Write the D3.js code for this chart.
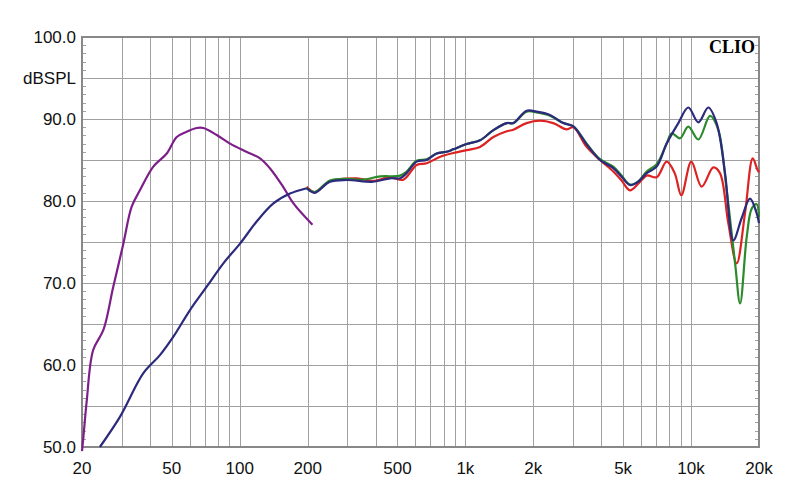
<!DOCTYPE html>
<html><head><meta charset="utf-8">
<script src="https://cdn.jsdelivr.net/npm/d3@7"></script>
<style>body{margin:0;background:#fff}svg{display:block}</style>
</head><body>
<script>
const xTickValues = [20,50,100,200,500,1000,2000,5000,10000,20000];
const xTickLabels = ["20","50","100","200","500","1k","2k","5k","10k","20k"];
const yTickValues = [50,60,70,80,90,100];
const yTickLabels = ["50.0","60.0","70.0","80.0","90.0","100.0"];
const yUnit = "dBSPL";

const purpleF = [20,20.3,21,22.4,24.9,27.5,30.5,33.2,36.1,41.4,47.5,52.6,58.2,64.4,69,79.1,90.6,107,123,136,156,173,210];
const purpleDB = [49.5,51.3,55.7,61.8,64.3,69.5,74.8,79.3,81.3,84.2,85.8,87.8,88.45,88.9,88.9,88.05,87.0,86.0,85.2,84.0,81.7,79.7,77.1];

const lowF = [24,29.5,37.4,44.3,50.8,60.2,71.4,84.6,100.3,118.9,141,167,198];
const lowDB = [50.0,53.7,59.0,61.2,63.45,66.7,69.55,72.4,74.8,77.5,79.7,80.9,81.55];

const blueF = [198,215,251,298,391,464,513,549,608,674,746,826,884,1014,1161,1331,1525,1631,1867,2069,2370,2717,3009,3446,3949,4520,4922,5357,5832,6356,7040,7797,8781,9725,10770,11920,12980,14140,15390,16750,18240,19540,20000];
const blueDB = [81.55,81.0,82.35,82.56,82.35,82.77,82.77,83.4,84.8,85.0,85.8,86.0,86.3,86.95,87.4,88.65,89.5,89.5,91.0,90.9,90.5,89.5,89.1,86.9,85.0,84.0,82.96,81.95,82.35,83.4,84.2,87.0,89.5,91.4,89.6,91.4,89.5,83.4,75.2,77.9,80.3,78.5,77.3];

const greenF = [198,215,251,298,350,420,513,549,608,674,746,826,884,1014,1161,1331,1525,1631,1867,2069,2370,2717,3009,3446,3949,4520,4922,5357,5832,6356,7040,7797,8205,8932,9725,10770,12140,13210,14380,15670,16490,17650,18590,19540,20000];
const greenDB = [81.6,81.1,82.5,82.7,82.6,83.0,83.1,83.6,84.9,85.1,85.8,86.0,86.3,86.95,87.4,88.65,89.5,89.5,90.9,90.8,90.4,89.5,89.1,87.0,85.1,84.2,83.1,82.0,82.4,83.6,84.5,87.0,88.25,87.65,89.06,87.5,90.37,88.65,81.3,72.4,67.5,75.65,79.1,79.6,78.0];

const redF = [198,215,251,330,391,464,531,608,674,773,884,1014,1161,1331,1525,1631,1867,2139,2451,2812,3009,3446,3949,4520,4922,5357,5832,6356,7040,7797,8460,9053,10025,11140,12550,13430,14620,15930,17340,18760,19690,20000];
const redDB = [81.75,81.1,82.4,82.77,82.45,82.9,82.6,84.4,84.6,85.4,85.85,86.2,86.6,87.8,88.5,88.7,89.5,89.8,89.5,88.74,89.0,86.6,85.0,83.6,82.5,81.3,82.1,83.1,82.9,84.8,83.4,80.7,84.8,81.75,84.1,83.4,77.3,72.4,78.5,85.2,83.8,83.5];

const W = 800, H = 504;
const m = {l:82, r:759, t:37, b:447};
const svg = d3.select("body").append("svg").attr("width", W).attr("height", H);
const x = d3.scaleLog().domain([20,20000]).range([m.l, m.r]);
const y = d3.scaleLinear().domain([50,100]).range([m.b, m.t]);

const grid = svg.append("g");
const vset = [];
for (let dec=10; dec<=10000; dec*=10) for (let k=1;k<=9;k++){ const v=dec*k; if (v>20 && v<20000) vset.push(v); }
grid.selectAll("line.v").data(vset).enter().append("line")
  .attr("x1", d=>Math.round(x(d))+0.5).attr("x2", d=>Math.round(x(d))+0.5)
  .attr("y1", m.t).attr("y2", m.b).attr("stroke", "#a0a0a0").attr("stroke-width", 1);
const hset = d3.range(55,100,5);
grid.selectAll("line.h").data(hset).enter().append("line")
  .attr("x1", m.l).attr("x2", m.r)
  .attr("y1", d=>Math.round(y(d))+0.5).attr("y2", d=>Math.round(y(d))+0.5)
  .attr("stroke", "#a0a0a0").attr("stroke-width", 1);
const minor = d3.range(51,100,1).filter(d=>d%5!==0);
grid.selectAll("line.ml").data(minor).enter().append("line")
  .attr("x1", m.l).attr("x2", m.l+4).attr("y1", d=>Math.round(y(d))+0.5).attr("y2", d=>Math.round(y(d))+0.5)
  .attr("stroke", "#a0a0a0");
grid.selectAll("line.mr").data(minor).enter().append("line")
  .attr("x1", m.r-4).attr("x2", m.r).attr("y1", d=>Math.round(y(d))+0.5).attr("y2", d=>Math.round(y(d))+0.5)
  .attr("stroke", "#a0a0a0");
svg.append("rect").attr("x", m.l).attr("y", m.t).attr("width", m.r-m.l).attr("height", m.b-m.t)
  .attr("fill","none").attr("stroke","#888").attr("stroke-width",2);

const font = "Arial, 'Liberation Sans', sans-serif";
svg.selectAll("text.yl").data(yTickValues).enter().append("text")
  .attr("x", 76).attr("y", d=>y(d)+6).attr("text-anchor","end")
  .attr("font-family", font).attr("font-size", 17).attr("fill","#111")
  .text((d,i)=>yTickLabels[i]);
svg.append("text").attr("x",76).attr("y", y(95)+6).attr("text-anchor","end")
  .attr("font-family", font).attr("font-size", 17).attr("fill","#111").text(yUnit);
svg.selectAll("text.xl").data(xTickValues).enter().append("text")
  .attr("x", d=>x(d)).attr("y", 474).attr("text-anchor","middle")
  .attr("font-family", font).attr("font-size", 17).attr("fill","#111")
  .text((d,i)=>xTickLabels[i]);
svg.append("text").attr("x", 755).attr("y", 53).attr("text-anchor","end")
  .attr("font-family", "'Liberation Serif', 'Times New Roman', serif").attr("font-weight","bold")
  .attr("font-size", 18).attr("fill","#000").text("CLIO");

const line = d3.line().x(d=>x(d[0])).y(d=>y(d[1])).curve(d3.curveCatmullRom.alpha(0.5));
const zip = (a,b)=>a.map((v,i)=>[v,b[i]]);
const plot = svg.append("g");
const series = [
  [purpleF, purpleDB, "#7d1f88"],
  [lowF, lowDB, "#2b2a7c"],
  [redF, redDB, "#dd2222"],
  [greenF, greenDB, "#2b8a2b"],
  [blueF, blueDB, "#2b2a7c"]
];
series.forEach(s => {
  plot.append("path").attr("d", line(zip(s[0], s[1]))).attr("fill","none")
    .attr("stroke", s[2]).attr("stroke-width", 2.2).attr("stroke-linejoin","round");
});
</script>
</body></html>
